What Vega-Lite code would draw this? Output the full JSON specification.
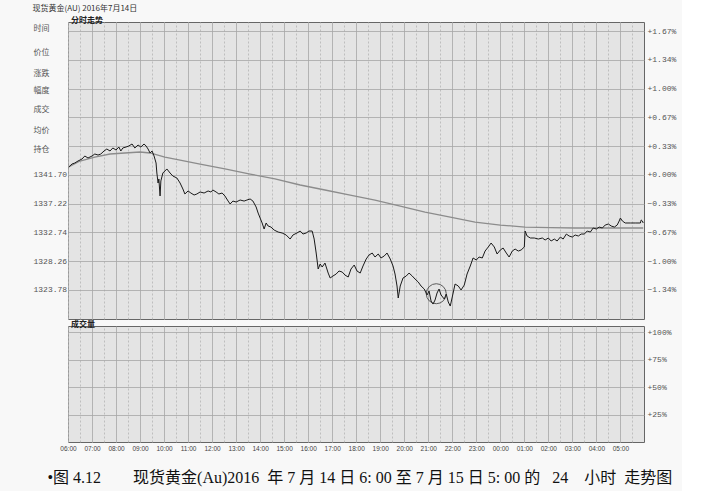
{
  "$schema": "https://vega.github.io/schema/vega-lite/v6.json",
  "background": "#f8f8f8",
  "padding": {"left": 32, "top": 4, "right": 5, "bottom": 5},
  "title": {"text": "现货黄金(AU) 2016年7月14日", "anchor": "start", "fontSize": 8, "font": "Noto Sans CJK SC", "fontWeight": "normal", "color": "#333", "offset": 4},
  "spacing": 0,
  "config": {
    "view": {"fill": "#e4e4e4", "stroke": "#666", "strokeWidth": 1},
    "axis": {"domain": false, "ticks": false, "labelFont": "Liberation Mono, Noto Sans CJK SC", "labelFontSize": 8, "labelColor": "#555", "gridColor": "#a6a6a6", "gridWidth": 0.8, "gridOpacity": 1}
  },
  "datasets": {
    "price": [
      {"t":"2016-07-14T06:02","p":1342.95},{"t":"2016-07-14T06:10","p":1343.41},{"t":"2016-07-14T06:17","p":1343.57},{"t":"2016-07-14T06:25","p":1343.88},{"t":"2016-07-14T06:35","p":1344.19},{"t":"2016-07-14T06:42","p":1344.66},{"t":"2016-07-14T06:50","p":1344.35},{"t":"2016-07-14T07:00","p":1344.66},{"t":"2016-07-14T07:07","p":1344.97},{"t":"2016-07-14T07:15","p":1344.81},{"t":"2016-07-14T07:22","p":1344.97},{"t":"2016-07-14T07:30","p":1345.44},{"t":"2016-07-14T07:37","p":1345.75},{"t":"2016-07-14T07:45","p":1345.44},{"t":"2016-07-14T07:52","p":1345.91},{"t":"2016-07-14T08:00","p":1345.59},{"t":"2016-07-14T08:07","p":1346.06},{"t":"2016-07-14T08:12","p":1345.44},{"t":"2016-07-14T08:17","p":1345.91},{"t":"2016-07-14T08:25","p":1346.06},{"t":"2016-07-14T08:32","p":1346.22},{"t":"2016-07-14T08:40","p":1346.53},{"t":"2016-07-14T08:47","p":1345.91},{"t":"2016-07-14T08:55","p":1346.37},{"t":"2016-07-14T09:02","p":1346.06},{"t":"2016-07-14T09:10","p":1346.53},{"t":"2016-07-14T09:15","p":1346.22},{"t":"2016-07-14T09:20","p":1345.75},{"t":"2016-07-14T09:25","p":1345.13},{"t":"2016-07-14T09:30","p":1345.44},{"t":"2016-07-14T09:35","p":1344.66},{"t":"2016-07-14T09:40","p":1343.57},{"t":"2016-07-14T09:42","p":1342.01},{"t":"2016-07-14T09:45","p":1340.45},{"t":"2016-07-14T09:47","p":1341.08},{"t":"2016-07-14T09:50","p":1338.43},{"t":"2016-07-14T09:52","p":1340.77},{"t":"2016-07-14T09:57","p":1342.01},{"t":"2016-07-14T10:02","p":1342.32},{"t":"2016-07-14T10:07","p":1342.64},{"t":"2016-07-14T10:15","p":1342.01},{"t":"2016-07-14T10:22","p":1341.54},{"t":"2016-07-14T10:32","p":1341.23},{"t":"2016-07-14T10:40","p":1340.45},{"t":"2016-07-14T10:47","p":1339.52},{"t":"2016-07-14T10:52","p":1338.74},{"t":"2016-07-14T11:00","p":1339.21},{"t":"2016-07-14T11:07","p":1338.89},{"t":"2016-07-14T11:15","p":1338.58},{"t":"2016-07-14T11:22","p":1338.74},{"t":"2016-07-14T11:30","p":1339.05},{"t":"2016-07-14T11:40","p":1338.89},{"t":"2016-07-14T11:50","p":1339.21},{"t":"2016-07-14T11:57","p":1339.05},{"t":"2016-07-14T12:02","p":1339.36},{"t":"2016-07-14T12:10","p":1339.05},{"t":"2016-07-14T12:17","p":1338.74},{"t":"2016-07-14T12:25","p":1338.89},{"t":"2016-07-14T12:32","p":1338.43},{"t":"2016-07-14T12:40","p":1337.64},{"t":"2016-07-14T12:45","p":1337.18},{"t":"2016-07-14T12:52","p":1337.64},{"t":"2016-07-14T13:00","p":1337.49},{"t":"2016-07-14T13:10","p":1337.80},{"t":"2016-07-14T13:20","p":1337.64},{"t":"2016-07-14T13:27","p":1337.80},{"t":"2016-07-14T13:35","p":1337.96},{"t":"2016-07-14T13:42","p":1337.64},{"t":"2016-07-14T13:50","p":1336.71},{"t":"2016-07-14T13:55","p":1335.77},{"t":"2016-07-14T14:00","p":1334.99},{"t":"2016-07-14T14:05","p":1334.22},{"t":"2016-07-14T14:10","p":1333.28},{"t":"2016-07-14T14:15","p":1334.22},{"t":"2016-07-14T14:20","p":1333.75},{"t":"2016-07-14T14:27","p":1333.59},{"t":"2016-07-14T14:35","p":1333.12},{"t":"2016-07-14T14:45","p":1332.81},{"t":"2016-07-14T14:55","p":1332.66},{"t":"2016-07-14T15:05","p":1332.35},{"t":"2016-07-14T15:15","p":1331.72},{"t":"2016-07-14T15:22","p":1332.35},{"t":"2016-07-14T15:32","p":1332.66},{"t":"2016-07-14T15:40","p":1332.97},{"t":"2016-07-14T15:47","p":1332.50},{"t":"2016-07-14T15:55","p":1332.66},{"t":"2016-07-14T16:02","p":1332.97},{"t":"2016-07-14T16:10","p":1332.97},{"t":"2016-07-14T16:15","p":1331.72},{"t":"2016-07-14T16:20","p":1329.54},{"t":"2016-07-14T16:25","p":1327.05},{"t":"2016-07-14T16:30","p":1327.83},{"t":"2016-07-14T16:35","p":1327.36},{"t":"2016-07-14T16:42","p":1327.98},{"t":"2016-07-14T16:50","p":1326.42},{"t":"2016-07-14T16:55","p":1325.65},{"t":"2016-07-14T17:02","p":1325.96},{"t":"2016-07-14T17:10","p":1326.27},{"t":"2016-07-14T17:17","p":1326.74},{"t":"2016-07-14T17:25","p":1326.58},{"t":"2016-07-14T17:32","p":1326.11},{"t":"2016-07-14T17:40","p":1325.80},{"t":"2016-07-14T17:47","p":1327.05},{"t":"2016-07-14T17:55","p":1327.67},{"t":"2016-07-14T18:02","p":1326.74},{"t":"2016-07-14T18:10","p":1326.42},{"t":"2016-07-14T18:17","p":1327.52},{"t":"2016-07-14T18:25","p":1328.61},{"t":"2016-07-14T18:32","p":1329.23},{"t":"2016-07-14T18:40","p":1329.54},{"t":"2016-07-14T18:47","p":1328.92},{"t":"2016-07-14T18:55","p":1329.39},{"t":"2016-07-14T19:02","p":1328.77},{"t":"2016-07-14T19:10","p":1329.08},{"t":"2016-07-14T19:17","p":1329.54},{"t":"2016-07-14T19:25","p":1328.61},{"t":"2016-07-14T19:32","p":1327.52},{"t":"2016-07-14T19:37","p":1326.27},{"t":"2016-07-14T19:42","p":1324.40},{"t":"2016-07-14T19:45","p":1322.53},{"t":"2016-07-14T19:50","p":1324.40},{"t":"2016-07-14T19:57","p":1325.65},{"t":"2016-07-14T20:05","p":1325.96},{"t":"2016-07-14T20:12","p":1326.42},{"t":"2016-07-14T20:20","p":1325.96},{"t":"2016-07-14T20:27","p":1325.49},{"t":"2016-07-14T20:35","p":1325.02},{"t":"2016-07-14T20:42","p":1324.40},{"t":"2016-07-14T20:50","p":1323.93},{"t":"2016-07-14T20:57","p":1323.00},{"t":"2016-07-14T21:02","p":1323.62},{"t":"2016-07-14T21:07","p":1322.06},{"t":"2016-07-14T21:12","p":1321.59},{"t":"2016-07-14T21:17","p":1322.22},{"t":"2016-07-14T21:22","p":1323.31},{"t":"2016-07-14T21:27","p":1323.93},{"t":"2016-07-14T21:32","p":1323.00},{"t":"2016-07-14T21:40","p":1322.37},{"t":"2016-07-14T21:45","p":1323.15},{"t":"2016-07-14T21:50","p":1321.91},{"t":"2016-07-14T21:55","p":1321.28},{"t":"2016-07-14T22:00","p":1322.69},{"t":"2016-07-14T22:07","p":1324.71},{"t":"2016-07-14T22:15","p":1324.40},{"t":"2016-07-14T22:22","p":1323.78},{"t":"2016-07-14T22:30","p":1324.55},{"t":"2016-07-14T22:37","p":1326.27},{"t":"2016-07-14T22:45","p":1327.52},{"t":"2016-07-14T22:52","p":1328.77},{"t":"2016-07-14T23:00","p":1328.45},{"t":"2016-07-14T23:07","p":1328.92},{"t":"2016-07-14T23:15","p":1328.77},{"t":"2016-07-14T23:22","p":1329.85},{"t":"2016-07-14T23:30","p":1330.48},{"t":"2016-07-14T23:37","p":1331.10},{"t":"2016-07-14T23:45","p":1330.48},{"t":"2016-07-14T23:52","p":1329.39},{"t":"2016-07-15T00:00","p":1330.01},{"t":"2016-07-15T00:07","p":1330.32},{"t":"2016-07-15T00:15","p":1329.54},{"t":"2016-07-15T00:22","p":1328.92},{"t":"2016-07-15T00:30","p":1329.85},{"t":"2016-07-15T00:37","p":1330.16},{"t":"2016-07-15T00:45","p":1329.85},{"t":"2016-07-15T00:52","p":1330.01},{"t":"2016-07-15T01:00","p":1330.48},{"t":"2016-07-15T01:02","p":1332.97},{"t":"2016-07-15T01:07","p":1332.19},{"t":"2016-07-15T01:15","p":1331.88},{"t":"2016-07-15T01:25","p":1331.88},{"t":"2016-07-15T01:35","p":1331.72},{"t":"2016-07-15T01:45","p":1331.88},{"t":"2016-07-15T01:52","p":1331.57},{"t":"2016-07-15T02:00","p":1331.88},{"t":"2016-07-15T02:07","p":1331.41},{"t":"2016-07-15T02:15","p":1331.72},{"t":"2016-07-15T02:22","p":1331.41},{"t":"2016-07-15T02:30","p":1332.03},{"t":"2016-07-15T02:37","p":1331.72},{"t":"2016-07-15T02:45","p":1332.50},{"t":"2016-07-15T02:52","p":1332.19},{"t":"2016-07-15T03:00","p":1332.03},{"t":"2016-07-15T03:07","p":1332.35},{"t":"2016-07-15T03:15","p":1332.19},{"t":"2016-07-15T03:22","p":1332.50},{"t":"2016-07-15T03:30","p":1332.50},{"t":"2016-07-15T03:37","p":1332.97},{"t":"2016-07-15T03:45","p":1332.81},{"t":"2016-07-15T03:52","p":1333.44},{"t":"2016-07-15T04:00","p":1333.28},{"t":"2016-07-15T04:07","p":1333.59},{"t":"2016-07-15T04:15","p":1333.44},{"t":"2016-07-15T04:22","p":1333.90},{"t":"2016-07-15T04:30","p":1334.06},{"t":"2016-07-15T04:37","p":1333.75},{"t":"2016-07-15T04:45","p":1333.59},{"t":"2016-07-15T04:52","p":1333.90},{"t":"2016-07-15T04:57","p":1334.53},{"t":"2016-07-15T05:00","p":1334.99},{"t":"2016-07-15T05:05","p":1334.53},{"t":"2016-07-15T05:12","p":1334.22},{"t":"2016-07-15T05:25","p":1334.22},{"t":"2016-07-15T05:37","p":1334.22},{"t":"2016-07-15T05:50","p":1334.22},{"t":"2016-07-15T05:52","p":1334.69},{"t":"2016-07-15T05:55","p":1334.53},{"t":"2016-07-15T05:57","p":1334.22}
    ],
    "ma": [
      {"t":"2016-07-14T06:02","p":1342.95},{"t":"2016-07-14T06:30","p":1343.88},{"t":"2016-07-14T07:07","p":1344.50},{"t":"2016-07-14T07:45","p":1344.97},{"t":"2016-07-14T08:22","p":1345.13},{"t":"2016-07-14T09:00","p":1345.28},{"t":"2016-07-14T09:25","p":1345.13},{"t":"2016-07-14T10:02","p":1344.50},{"t":"2016-07-14T10:40","p":1344.03},{"t":"2016-07-14T11:30","p":1343.41},{"t":"2016-07-14T12:32","p":1342.64},{"t":"2016-07-14T13:35","p":1341.85},{"t":"2016-07-14T14:37","p":1341.08},{"t":"2016-07-14T15:40","p":1340.14},{"t":"2016-07-14T16:42","p":1339.36},{"t":"2016-07-14T17:45","p":1338.58},{"t":"2016-07-14T18:47","p":1337.80},{"t":"2016-07-14T19:50","p":1336.86},{"t":"2016-07-14T20:52","p":1335.93},{"t":"2016-07-14T21:55","p":1335.15},{"t":"2016-07-14T22:57","p":1334.37},{"t":"2016-07-15T00:00","p":1333.90},{"t":"2016-07-15T01:02","p":1333.59},{"t":"2016-07-15T02:05","p":1333.51},{"t":"2016-07-15T03:07","p":1333.44},{"t":"2016-07-15T04:10","p":1333.44},{"t":"2016-07-15T05:57","p":1333.44}
    ],
    "ring": [{"t":"2016-07-14T21:20","p":1323.2}]
  },
  "vconcat": [
    {
      "width": 576,
      "height": 297,
      "title": {"text": "分时走势", "anchor": "start", "frame": "group", "offset": 0, "baseline": "top", "dy": 3, "dx": 3, "fontSize": 8, "font": "Noto Sans CJK SC", "fontWeight": "bold", "color": "#222"},
      "layer": [
        {
          "data": {"name": "ma"},
          "mark": {"type": "line", "color": "#8c8c8c", "strokeWidth": 1.3},
          "encoding": {
            "x": {"field": "t", "type": "temporal",
              "scale": {"domain": [{"year": 2016, "month": 7, "date": 14, "hours": 6, "minutes": 0}, {"year": 2016, "month": 7, "date": 15, "hours": 5, "minutes": 59}]},
              "axis": {"orient": "bottom", "labels": false, "ticks": false, "domain": false, "title": null, "grid": true}},
            "y": {"field": "p", "type": "quantitative",
              "scale": {"domain": [1319.26, 1365.54], "nice": false, "zero": false},
              "axis": {"orient": "left", "grid": false, "title": null, "labelPadding": 35, "labelAlign": "left",
                "values": [1364.45, 1360.71, 1357.59, 1354.79, 1351.98, 1348.56, 1345.75, 1341.70, 1337.22, 1332.74, 1328.26, 1323.78],
                "labelExpr": "datum.value > 1363 ? '时间' : datum.value > 1360 ? '价位' : datum.value > 1357 ? '涨跌' : datum.value > 1354 ? '幅度' : datum.value > 1351 ? '成交' : datum.value > 1348 ? '均价' : datum.value > 1345 ? '持仓' : format(datum.value, '.2f')"}}
          }
        },
        {
          "data": {"name": "price"},
          "mark": {"type": "line", "color": "#1a1a1a", "strokeWidth": 1},
          "encoding": {
            "x": {"field": "t", "type": "temporal", "axis": null},
            "y": {"field": "p", "type": "quantitative",
              "axis": {"orient": "right", "title": null, "grid": true, "labelPadding": 3,
                "values": [1364.10, 1359.62, 1355.14, 1350.66, 1346.18, 1341.70, 1337.22, 1332.74, 1328.26, 1323.78],
                "labelExpr": "(datum.value >= 1341.69 ? '+' : '') + format((datum.value / 1341.70 - 1) * 100, '.2f') + '%'"}}
          }
        },
        {
          "data": {"name": "ring"},
          "mark": {"type": "point", "shape": "circle", "filled": false, "size": 400, "color": "#222", "strokeWidth": 1},
          "encoding": {
            "x": {"field": "t", "type": "temporal",
              "axis": {"orient": "top", "labels": false, "ticks": false, "domain": false, "title": null, "grid": true, "gridDash": [2, 2], "gridColor": "#b4b4b4", "tickCount": 48}},
            "y": {"field": "p", "type": "quantitative", "axis": null}
          }
        }
      ],
      "resolve": {"axis": {"y": "independent", "x": "independent"}}
    },
    {
      "width": 576,
      "height": 116,
      "title": {"text": "成交量", "anchor": "start", "frame": "group", "offset": 0, "baseline": "top", "dy": 3, "dx": 3, "fontSize": 8, "font": "Noto Sans CJK SC", "fontWeight": "bold", "color": "#222"},
      "data": {"name": "price"},
      "layer": [
        {
          "mark": {"type": "point", "opacity": 0, "clip": true},
          "encoding": {
            "x": {"field": "t", "type": "temporal",
              "scale": {"domain": [{"year": 2016, "month": 7, "date": 14, "hours": 6, "minutes": 0}, {"year": 2016, "month": 7, "date": 15, "hours": 5, "minutes": 59}]},
              "axis": {"orient": "bottom", "grid": true, "labelFont": "Liberation Sans", "labelFontSize": 6.5, "labelColor": "#444", "labelPadding": 3, "labelOverlap": false, "labelFlush": false,
                "labelExpr": "timeFormat(datum.value, '%H:%M')",
                "title": "•图 4.12\u2002\u2002\u2002\u2002现货黄金(Au)2016\u2002年 7 月 14 日 6: 00 至 7 月 15 日 5: 00 的\u2002 24\u2002\u2002小时\u2002走势图",
                "titleFont": "Liberation Serif, Noto Sans CJK SC", "titleFontSize": 16, "titleFontWeight": "normal", "titleColor": "#111",
                "titleAnchor": "start", "titleAlign": "left", "titleX": -21, "titlePadding": 18}},
            "y": {"field": "p", "type": "quantitative",
              "scale": {"domain": [0, 105.5], "nice": false, "zero": false},
              "axis": {"orient": "right", "title": null, "grid": true, "labelPadding": 3, "values": [25, 50, 75, 100], "labelExpr": "'+' + datum.value + '%'"}}
          }
        },
        {
          "mark": {"type": "point", "opacity": 0, "clip": true},
          "encoding": {
            "x": {"field": "t", "type": "temporal",
              "axis": {"orient": "top", "labels": false, "ticks": false, "domain": false, "title": null, "grid": true, "gridDash": [2, 2], "gridColor": "#b4b4b4", "tickCount": 48}},
            "y": {"field": "p", "type": "quantitative", "axis": null}
          }
        }
      ],
      "resolve": {"axis": {"y": "independent", "x": "independent"}}
    }
  ]
}
